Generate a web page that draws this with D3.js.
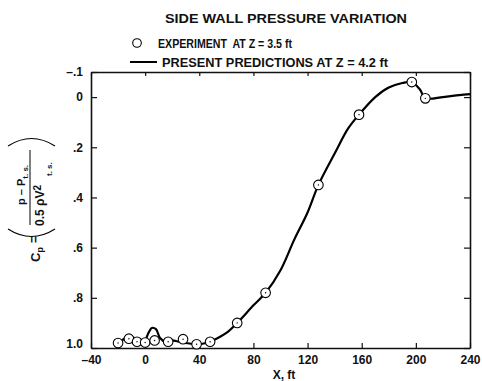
<!DOCTYPE html>
<html><head><meta charset="utf-8">
<script src="https://cdn.jsdelivr.net/npm/d3@7"></script>
<style>
html,body{margin:0;padding:0;background:#fff;}
svg text{font-family:"Liberation Sans",Arial,Helvetica,sans-serif;fill:#111;}
</style></head>
<body>
<svg id="c" width="482" height="381"></svg>
<script>
// ---- data ----
const expX = [-20, -12, -6, 0, 7, 17, 28, 38, 48, 68, 89, 128, 158, 197, 207];
const expY = [0.98, 0.963, 0.975, 0.978, 0.97, 0.975, 0.965, 0.985, 0.975, 0.90, 0.78, 0.35, 0.07, -0.06, 0.005];
const predX = [-20, -16, -12, -8, -4, 0, 2, 5, 8, 11, 15, 20, 25, 30, 38, 45, 50, 60, 68, 80, 89, 100, 110, 120, 128, 140, 150, 158, 170, 180, 190, 197, 203, 207, 220, 232, 240];
const predY = [0.985, 0.965, 0.955, 0.96, 0.975, 0.97, 0.945, 0.92, 0.925, 0.96, 0.975, 0.97, 0.975, 0.98, 0.985, 0.98, 0.97, 0.94, 0.90, 0.83, 0.78, 0.69, 0.57, 0.46, 0.35, 0.225, 0.125, 0.07, 0.0, -0.038, -0.056, -0.06, -0.03, 0.004, 0.0, -0.008, -0.012];
const xTicks = [-40, 0, 40, 80, 120, 160, 200, 240];
const xTickLabels = ["\u201340", "0", "40", "80", "120", "160", "200", "240"];
const yTicks = [-0.1, 0, 0.2, 0.4, 0.6, 0.8, 1.0];
const yTickLabels = ["\u2013.1", "0", ".2", ".4", ".6", ".8", "1.0"];
const titleText = "SIDE WALL PRESSURE VARIATION";
const legendExp = "EXPERIMENT  AT Z = 3.5 ft";
const legendPred = "PRESENT PREDICTIONS AT Z = 4.2 ft";

const svg = d3.select("#c");
const L = 91, R = 470, T = 72, B = 348;
const x = d3.scaleLinear().domain([-40, 240]).range([L, R]);
const y = d3.scaleLinear().domain([-0.1, 1.0]).range([T, B]);

// axes
function styleAxis(g){
  g.selectAll(".domain").attr("stroke","#111").attr("stroke-width",1.6);
  g.selectAll(".tick line").attr("stroke","#111").attr("stroke-width",1.2);
  g.selectAll("text").attr("font-size",12).attr("font-weight","bold").attr("fill","#111")
   .style("font-family","'Liberation Sans',Arial,sans-serif");
}
svg.append("g").attr("transform",`translate(0,${B})`)
  .call(d3.axisBottom(x).tickValues(xTicks).tickSize(-5).tickSizeOuter(0).tickPadding(7)
    .tickFormat((d,i)=>xTickLabels[i])).call(styleAxis);
svg.append("g").attr("transform",`translate(0,${T})`)
  .call(d3.axisTop(x).tickValues(xTicks).tickSize(-4).tickSizeOuter(0).tickFormat(""))
  .call(styleAxis);
svg.append("g").attr("transform",`translate(${L},0)`)
  .call(d3.axisLeft(y).tickValues(yTicks).tickSize(-6).tickSizeOuter(0).tickPadding(8)
    .tickFormat((d,i)=>yTickLabels[i])).call(styleAxis)
  .call(g=>g.selectAll(".tick text").filter(d=>d===1.0).attr("dy","-0.05em"));
svg.append("g").attr("transform",`translate(${R},0)`)
  .call(d3.axisRight(y).tickValues(yTicks).tickSize(-6).tickSizeOuter(0).tickFormat(""))
  .call(styleAxis);

// prediction curve
const pred = predX.map((d,i)=>[d,predY[i]]);
svg.append("path").datum(pred)
  .attr("fill","none").attr("stroke","#000").attr("stroke-width",2.2)
  .attr("stroke-linejoin","round")
  .attr("d", d3.line().x(d=>x(d[0])).y(d=>y(d[1])).curve(d3.curveCatmullRom.alpha(0.5)));

// experiment points
const exp = expX.map((d,i)=>[d,expY[i]]);
const pg = svg.append("g");
pg.selectAll("circle.o").data(exp).join("circle").attr("class","o")
  .attr("cx",d=>x(d[0])).attr("cy",d=>y(d[1])).attr("r",4.8)
  .attr("fill","#fff").attr("stroke","#000").attr("stroke-width",1.1);
pg.selectAll("circle.d").data(exp).join("circle").attr("class","d")
  .attr("cx",d=>x(d[0])).attr("cy",d=>y(d[1])).attr("r",0.7).attr("fill","#000");

// title & legend
svg.append("text").attr("x",165).attr("y",23).attr("font-size",12).attr("font-weight","bold")
  .attr("textLength",242).attr("lengthAdjust","spacingAndGlyphs").text(titleText);
svg.append("circle").attr("cx",137).attr("cy",43).attr("r",4.3).attr("fill","#fff")
  .attr("stroke","#000").attr("stroke-width",1.1);
svg.append("text").attr("x",158).attr("y",47.5).attr("font-size",12).attr("font-weight","bold")
  .attr("textLength",134).attr("lengthAdjust","spacingAndGlyphs").style("white-space","pre")
  .attr("xml:space","preserve").text(legendExp);
svg.append("line").attr("x1",130).attr("x2",157).attr("y1",62).attr("y2",62)
  .attr("stroke","#000").attr("stroke-width",2);
svg.append("text").attr("x",162).attr("y",66.5).attr("font-size",12).attr("font-weight","bold")
  .attr("textLength",226).attr("lengthAdjust","spacingAndGlyphs").text(legendPred);

// x label
svg.append("text").attr("x",284).attr("y",379).attr("text-anchor","middle")
  .attr("font-size",12).attr("font-weight","bold").text("X, ft");

// y label (rotated): screen (X,Y) -> (x=-Y, y=X)
const yl = svg.append("g").attr("transform","rotate(-90)");
const cp = yl.append("text").attr("x",-262).attr("y",40).attr("font-size",13).attr("font-weight","bold");
cp.append("tspan").text("C");
cp.append("tspan").attr("font-size",9).attr("dy",3).text("p");
yl.append("text").attr("x",-243).attr("y",38).attr("font-size",12).attr("font-weight","bold").text("=");
const num = yl.append("text").attr("x",-205).attr("y",25).attr("font-size",11).attr("font-weight","bold");
num.append("tspan").text("p \u2013 P");
num.append("tspan").attr("font-size",8).attr("dy",3).text("t. s.");
yl.append("line").attr("x1",-225).attr("x2",-150).attr("y1",30).attr("y2",30)
  .attr("stroke","#000").attr("stroke-width",1);
const den = yl.append("text").attr("x",-226).attr("y",44).attr("font-size",12).attr("font-weight","bold");
den.append("tspan").text("0.5 \u03c1V");
den.append("tspan").attr("font-size",10).attr("dy",-3).text("2");
yl.append("text").attr("x",-176).attr("y",52).attr("font-size",8).attr("font-weight","bold").text("t. s.");
// big parentheses (screen coords)
svg.append("path").attr("d","M8,229 Q31.5,244 55,229").attr("fill","none").attr("stroke","#000").attr("stroke-width",1.1);
svg.append("path").attr("d","M8,146 Q31.5,131 55,146").attr("fill","none").attr("stroke","#000").attr("stroke-width",1.1);
</script>
</body></html>
